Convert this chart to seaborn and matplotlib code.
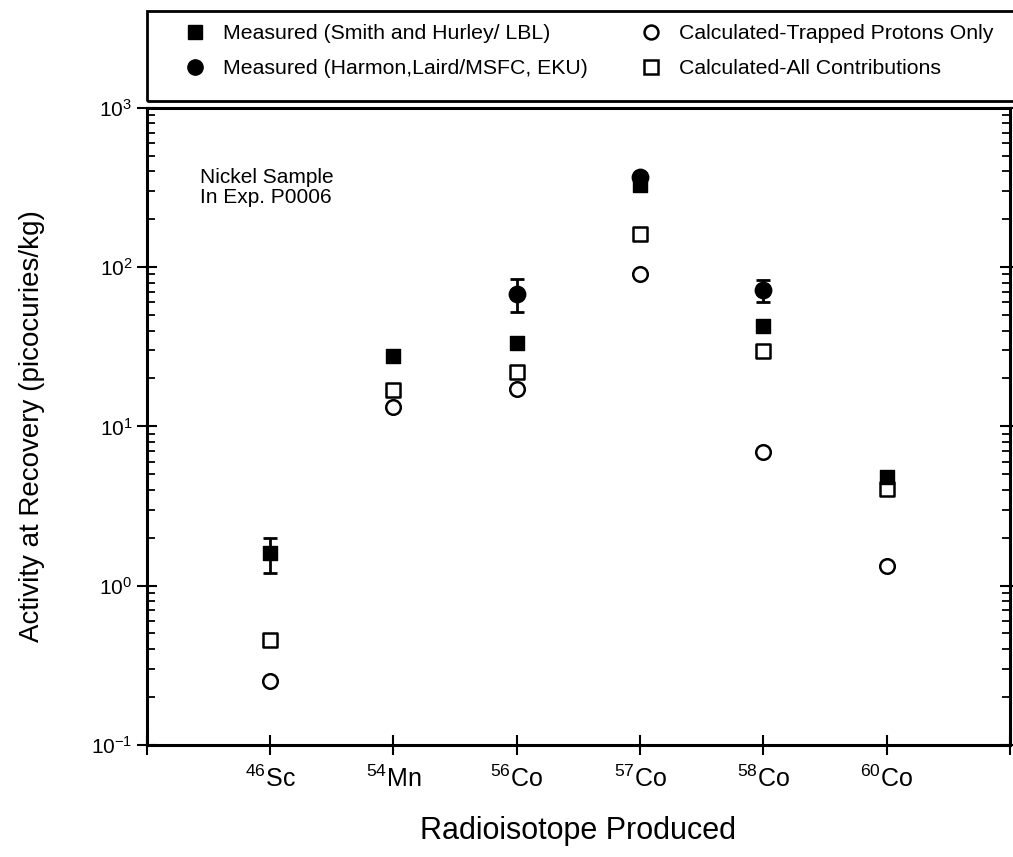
import numpy as np
import pandas as pd
import matplotlib
matplotlib.use("Agg")
import matplotlib.pyplot as plt
import seaborn as sns
from matplotlib.lines import Line2D
from matplotlib.patches import Rectangle
from matplotlib.ticker import LogLocator, NullFormatter

sns.set_style("ticks", {"text.color": "black", "axes.labelcolor": "black",
                        "xtick.color": "black", "ytick.color": "black"})
plt.rcParams['font.family'] = ['Liberation Sans', 'DejaVu Sans']
plt.rcParams['mathtext.default'] = 'regular'

# -----------------------------
# data
# -----------------------------
isotopes = ["46Sc", "54Mn", "56Co", "57Co", "58Co", "60Co"]
iso_labels = ["$^{46}$Sc", "$^{54}$Mn", "$^{56}$Co", "$^{57}$Co", "$^{58}$Co", "$^{60}$Co"]
xpos = [1, 2, 3, 4, 5, 6]

smith_hurley = [1.6, 27.5, 33.3, 328, 42.4, 4.8]
smith_err = [0.4, 0, 0, 0, 0, 0]

harmon_iso = ["56Co", "57Co", "58Co"]
harmon_x = [3, 4, 5]
harmon = [68, 370, 72]
harmon_err_lo = [16, 0, 12]
harmon_err_hi = [16, 0, 11]

trapped_only = [0.25, 13.3, 17.2, 90, 6.9, 1.33]
all_contrib = [0.457, 16.9, 21.9, 161, 29.9, 4.07]

df = pd.DataFrame({"x": xpos, "isotope": isotopes,
                   "smith": smith_hurley, "trapped": trapped_only, "all": all_contrib})
df_h = pd.DataFrame({"x": harmon_x, "isotope": harmon_iso, "harmon": harmon})

# -----------------------------
# figure
# -----------------------------
fig = plt.figure(figsize=(10.13, 8.57), dpi=100)
ax = fig.add_axes([0.145, 0.131, 0.852, 0.743])

lw = 1.8
ms = 110

# error bars first
ax.errorbar(df["x"], df["smith"], yerr=smith_err, fmt="none", ecolor="black",
            elinewidth=2, capsize=5, capthick=2)
ax.errorbar(df_h["x"], df_h["harmon"], yerr=[harmon_err_lo, harmon_err_hi], fmt="none",
            ecolor="black", elinewidth=2, capsize=5, capthick=2)

sns.scatterplot(data=df, x="x", y="all", marker="s", s=ms, color="white",
                edgecolor="black", linewidth=lw, ax=ax, zorder=3)
sns.scatterplot(data=df, x="x", y="trapped", marker="o", s=ms, color="white",
                edgecolor="black", linewidth=lw, ax=ax, zorder=3)
sns.scatterplot(data=df, x="x", y="smith", marker="s", s=ms, color="black",
                edgecolor="black", linewidth=1, ax=ax, zorder=4)
sns.scatterplot(data=df_h, x="x", y="harmon", marker="o", s=ms + 30, color="black",
                edgecolor="black", linewidth=1, ax=ax, zorder=4)

ax.set_yscale("log")
ax.set_ylim(0.1, 1000)
ax.set_xlim(0, 7)
ax.set_xticks(range(0, 8))
ax.set_xticklabels([""] + iso_labels + [""], fontsize=18)
ax.yaxis.set_major_locator(LogLocator(base=10, numticks=10))
ax.yaxis.set_minor_locator(LogLocator(base=10, subs=np.arange(2, 10), numticks=20))
ax.yaxis.set_minor_formatter(NullFormatter())

ax.tick_params(axis="x", which="major", direction="inout", length=14, width=1.5,
               pad=8)
ax.tick_params(axis="y", which="major", direction="inout", length=14, width=1.5,
               labelsize=15, left=True, right=True)
ax.tick_params(axis="y", which="minor", direction="in", length=6, width=1.3,
               left=True, right=True)
for s in ax.spines.values():
    s.set_linewidth(2.2)
    s.set_color("black")

ax.set_xlabel("Radioisotope Produced", fontsize=22, labelpad=17)
ax.set_ylabel("Activity at Recovery (picocuries/kg)", fontsize=20, labelpad=33)

ax.text(0.43, 420, "Nickel Sample\nIn Exp. P0006", fontsize=15, va="top", ha="left",
        linespacing=1.1)

# legend box above the axes
fig.patches.append(Rectangle((0.145, 0.882), 0.9, 0.105, transform=fig.transFigure,
                             fill=False, edgecolor="black", linewidth=2.0))
handles = [
    Line2D([], [], ls="none", marker="s", ms=10, mfc="black", mec="black"),
    Line2D([], [], ls="none", marker="o", ms=11, mfc="black", mec="black"),
    Line2D([], [], ls="none", marker="o", ms=10, mfc="white", mec="black", mew=1.8),
    Line2D([], [], ls="none", marker="s", ms=10, mfc="white", mec="black", mew=1.8),
]
labels = ["Measured (Smith and Hurley/ LBL)", "Measured (Harmon,Laird/MSFC, EKU)",
          "Calculated-Trapped Protons Only", "Calculated-All Contributions"]
leg = fig.legend(handles, labels, ncol=2, loc="center",
                 bbox_to_anchor=(0.1757, 0.94, 0.805, 0.0), mode="expand",
                 borderaxespad=0, borderpad=0, frameon=False, fontsize=15.3,
                 handlelength=1.6, handletextpad=0.5, labelspacing=0.75)

fig.savefig("out.png", dpi=100)
